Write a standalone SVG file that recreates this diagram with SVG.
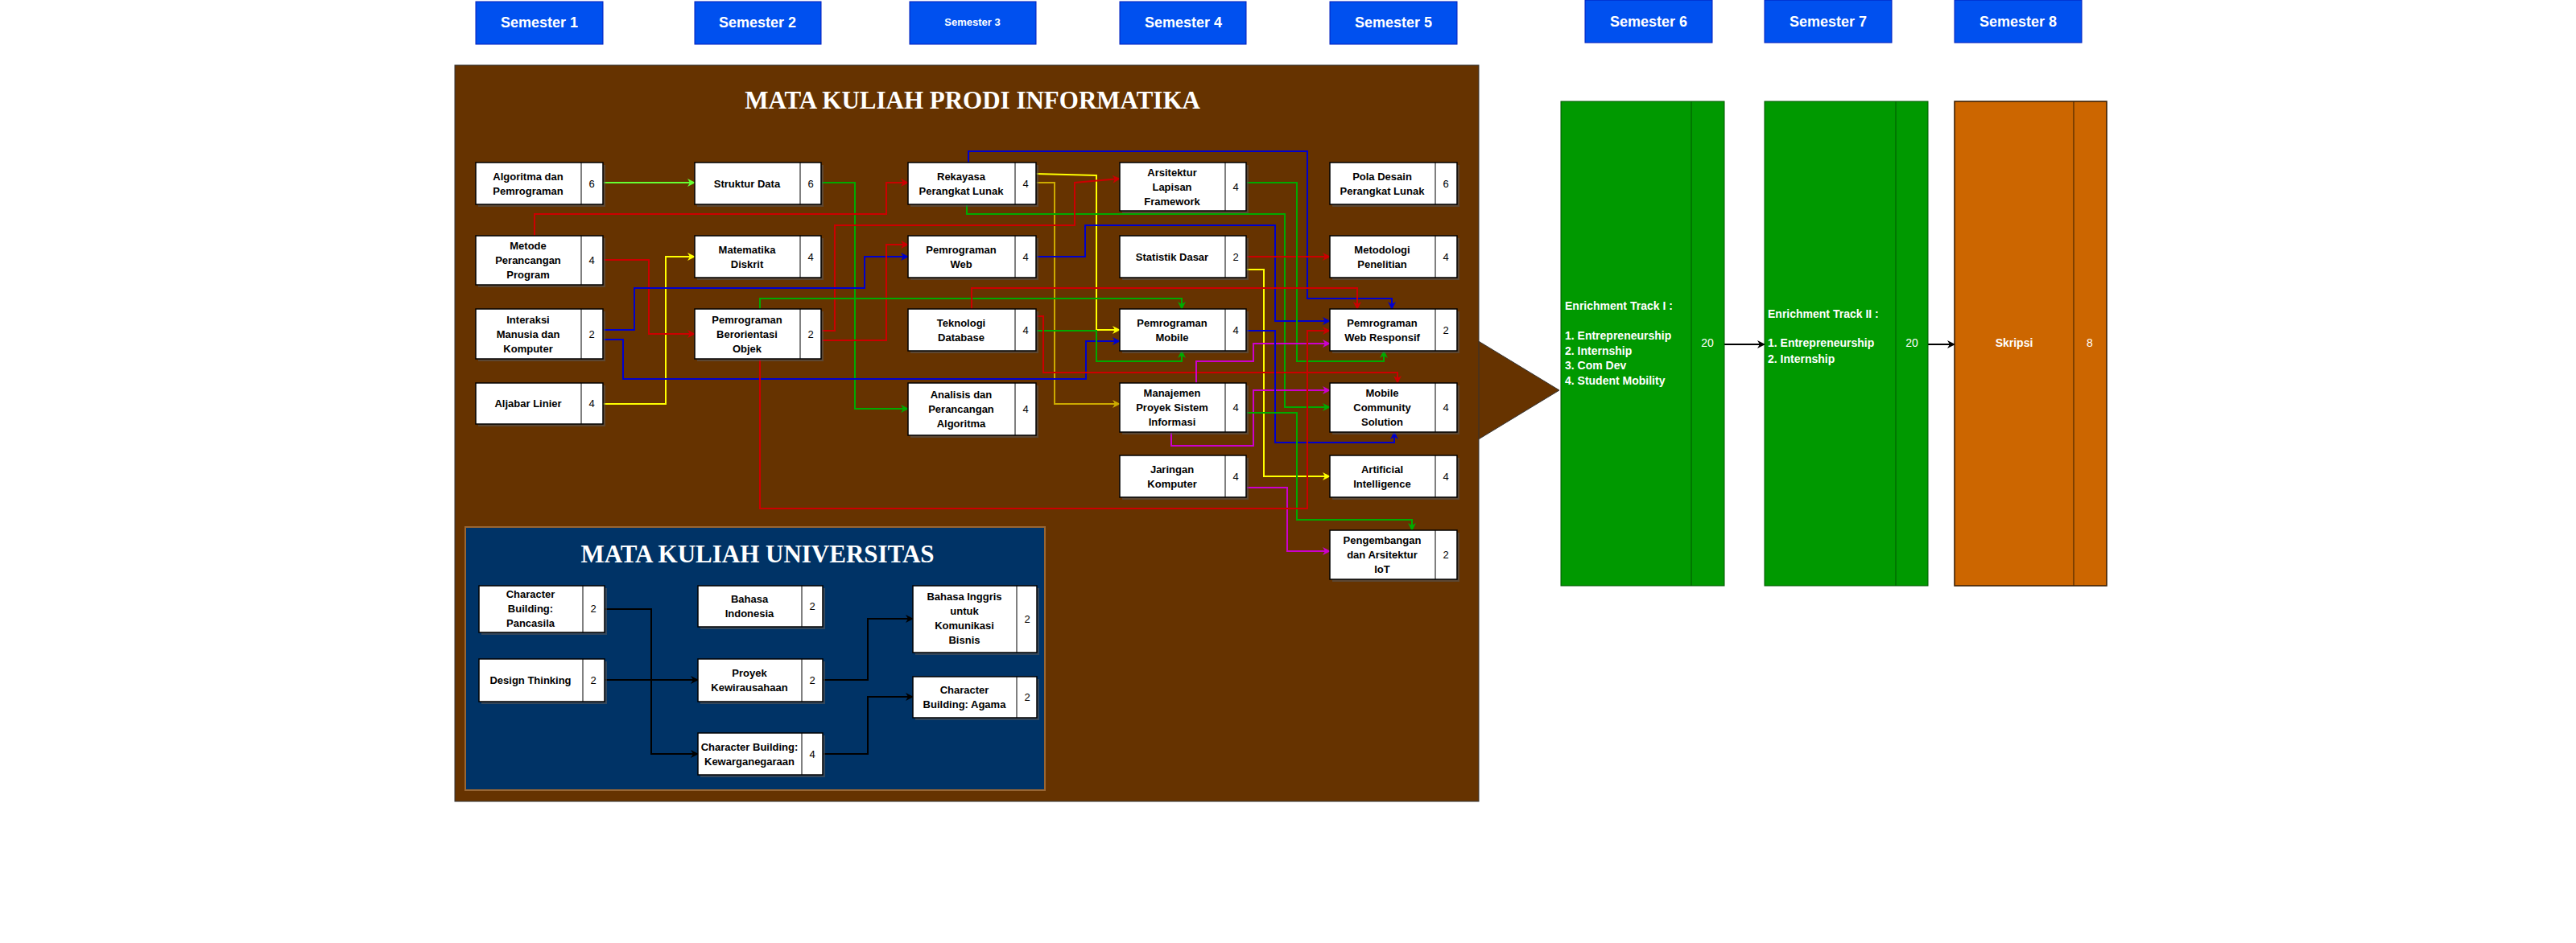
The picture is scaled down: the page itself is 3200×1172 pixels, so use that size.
<svg xmlns="http://www.w3.org/2000/svg" width="3200" height="1172" viewBox="0 0 3200 1172">
<style>
.sem{fill:#0050EF;stroke:#001DBC;stroke-width:1}
.st{font-family:"Liberation Sans",Arial,sans-serif;font-weight:bold;fill:#fff;text-anchor:middle}
.nb{fill:#fff;stroke:#000;stroke-width:1.5}
.sh{fill:#555;opacity:.6}
.nt{font-family:"Liberation Sans",Arial,sans-serif;font-weight:bold;font-size:13px;fill:#000;text-anchor:middle}
.nn{font-family:"Liberation Sans",Arial,sans-serif;font-size:13px;fill:#000;text-anchor:middle}
.ttl{font-family:"Liberation Serif","Times New Roman",serif;font-weight:bold;font-size:31px;fill:#fff;text-anchor:middle}
.c{fill:none;stroke-width:2}
.r{stroke:#CC0000;marker-end:url(#mr)}
.g{stroke:#00AA00;marker-end:url(#mg)}
.y{stroke:#FFFF00;marker-end:url(#my)}
.o{stroke:#CCAA00;marker-end:url(#mo)}
.b{stroke:#0000CC;marker-end:url(#mb)}
.m{stroke:#CC00CC;marker-end:url(#mm)}
.k{stroke:#000;marker-end:url(#mk)}
.et{font-family:"Liberation Sans",Arial,sans-serif;font-weight:bold;font-size:14px;fill:#fff}
</style>
<defs>
<marker id="mr" markerWidth="10" markerHeight="10" refX="9" refY="5" orient="auto" markerUnits="userSpaceOnUse"><path d="M0,0L10,5L0,10L3,5Z" fill="#CC0000"/></marker>
<marker id="mg" markerWidth="10" markerHeight="10" refX="9" refY="5" orient="auto" markerUnits="userSpaceOnUse"><path d="M0,0L10,5L0,10L3,5Z" fill="#00AA00"/></marker>
<marker id="mgl" markerWidth="10" markerHeight="10" refX="9" refY="5" orient="auto" markerUnits="userSpaceOnUse"><path d="M0,0L10,5L0,10L3,5Z" fill="#66FF33"/></marker>
<marker id="my" markerWidth="10" markerHeight="10" refX="9" refY="5" orient="auto" markerUnits="userSpaceOnUse"><path d="M0,0L10,5L0,10L3,5Z" fill="#FFFF00"/></marker>
<marker id="mo" markerWidth="10" markerHeight="10" refX="9" refY="5" orient="auto" markerUnits="userSpaceOnUse"><path d="M0,0L10,5L0,10L3,5Z" fill="#CCAA00"/></marker>
<marker id="mb" markerWidth="10" markerHeight="10" refX="9" refY="5" orient="auto" markerUnits="userSpaceOnUse"><path d="M0,0L10,5L0,10L3,5Z" fill="#0000CC"/></marker>
<marker id="mm" markerWidth="10" markerHeight="10" refX="9" refY="5" orient="auto" markerUnits="userSpaceOnUse"><path d="M0,0L10,5L0,10L3,5Z" fill="#CC00CC"/></marker>
<marker id="mk" markerWidth="10" markerHeight="10" refX="9" refY="5" orient="auto" markerUnits="userSpaceOnUse"><path d="M0,0L10,5L0,10L3,5Z" fill="#000"/></marker>
</defs>
<rect width="3200" height="1172" fill="#fff"/>
<g id="semesters">
<rect class="sem" x="591" y="2" width="158" height="53"/><text class="st" x="670" y="34" font-size="18">Semester 1</text>
<rect class="sem" x="863" y="2" width="157" height="53"/><text class="st" x="941" y="34" font-size="18">Semester 2</text>
<rect class="sem" x="1130" y="2" width="157" height="53"/><text class="st" x="1208" y="32" font-size="13">Semester 3</text>
<rect class="sem" x="1391" y="2" width="157" height="53"/><text class="st" x="1470" y="34" font-size="18">Semester 4</text>
<rect class="sem" x="1652" y="2" width="158" height="53"/><text class="st" x="1731" y="34" font-size="18">Semester 5</text>
<rect class="sem" x="1969" y="0" width="158" height="53"/><text class="st" x="2048" y="33" font-size="18" font-weight="normal">Semester 6</text>
<rect class="sem" x="2192" y="0" width="158" height="53"/><text class="st" x="2271" y="33" font-size="18">Semester 7</text>
<rect class="sem" x="2428" y="0" width="158" height="53"/><text class="st" x="2507" y="33" font-size="18">Semester 8</text>
</g>
<g id="prodi-panel">
<polygon points="1830,420 1937,485 1830,550" fill="#663300" stroke="#333" stroke-width="1"/>
<rect x="565" y="81" width="1272" height="915" fill="#663300" stroke="#333" stroke-width="1"/>
<text class="ttl" x="1208" y="135">MATA KULIAH PRODI INFORMATIKA</text>
</g>
<g id="univ-panel">
<rect x="578" y="655" width="720" height="327" fill="#003366" stroke="#996633" stroke-width="2"/>
<text class="ttl" x="941" y="699">MATA KULIAH UNIVERSITAS</text>
</g>
<g id="connectors">
<polyline class="c" stroke="#66FF33" marker-end="url(#mgl)" points="749,227 863,227"/>
<polyline class="c g" points="1020,227 1062,227 1062,508 1128,508"/>
<polyline class="c b" points="1203,202 1203,188 1624,188 1624,371 1729,371 1729,384"/>
<polyline class="c r" points="664,293 664,266 1101,266 1101,227 1128,227"/>
<polyline class="c y" points="1287,216 1362,218 1362,410 1391,410"/>
<polyline class="c o" points="1287,227 1310,227 1310,502 1391,502"/>
<polyline class="c g" points="1201,254 1201,266 1596,266 1596,506 1652,506"/>
<polyline class="c r" points="1020,411 1037,411 1037,280 1335,280 1335,227 1391,222"/>
<polyline class="c b" points="1287,319 1348,319 1348,280 1584,280 1584,399 1652,399"/>
<polyline class="c r" points="1548,319 1652,319"/>
<polyline class="c y" points="1548,335 1570,335 1570,592 1652,592"/>
<polyline class="c g" points="1548,227 1611,227 1611,449 1719,449 1719,436"/>
<polyline class="c y" points="749,502 827,502 827,319 863,319"/>
<polyline class="c r" points="749,323 806,323 806,415 863,415"/>
<polyline class="c b" points="749,410 788,410 788,358 1074,358 1074,319 1128,319"/>
<polyline class="c r" points="1020,429 1020,423 1101,423 1101,304 1128,304"/>
<polyline class="c b" points="749,422 774,422 774,471 1349,471 1349,424 1391,424"/>
<polyline class="c g" points="944,384 944,371 1468,371 1468,384"/>
<polyline class="c r" points="1207,384 1207,358 1686,358 1686,384"/>
<polyline class="c g" points="1287,411 1362,411 1362,449 1468,449 1468,436"/>
<polyline class="c r" points="1287,393 1296,393 1296,463 1736,463 1736,476"/>
<polyline class="c m" points="1486,476 1486,449 1557,449 1557,427 1652,427"/>
<polyline class="c m" points="1455,537 1455,554 1557,554 1557,485 1652,485"/>
<polyline class="c b" points="1548,411 1584,411 1584,550 1732,550 1732,537"/>
<polyline class="c g" points="1548,513 1611,513 1611,646 1754,646 1754,659"/>
<polyline class="c m" points="1548,606 1599,606 1599,685 1652,685"/>
<polyline class="c r" points="944,446 944,632 1624,632 1624,411 1652,411"/>
<polyline class="c k" points="751,757 809,757 809,937 867,937"/>
<polyline class="c k" points="751,845 867,845"/>
<polyline class="c k" points="1022,845 1078,845 1078,769 1134,769"/>
<polyline class="c k" points="1022,937 1078,937 1078,866 1134,866"/>
<polyline class="c k" stroke-width="1.5" points="2142,428 2192,428"/>
<polyline class="c k" stroke-width="1.5" points="2395,428 2428,428"/>
</g>
<g id="n-algoritma"><rect class="sh" x="594" y="205" width="158" height="52"/><rect class="nb" x="591" y="202" width="158" height="52"/><line x1="722" y1="202" x2="722" y2="254" stroke="#000"/><text class="nt" x="656" y="224">Algoritma dan</text><text class="nt" x="656" y="242">Pemrograman</text><text class="nn" x="735" y="233">6</text></g>
<g id="n-metode"><rect class="sh" x="594" y="296" width="158" height="61"/><rect class="nb" x="591" y="293" width="158" height="61"/><line x1="722" y1="293" x2="722" y2="354" stroke="#000"/><text class="nt" x="656" y="310">Metode</text><text class="nt" x="656" y="328">Perancangan</text><text class="nt" x="656" y="346">Program</text><text class="nn" x="735" y="328">4</text></g>
<g id="n-interaksi"><rect class="sh" x="594" y="387" width="158" height="62"/><rect class="nb" x="591" y="384" width="158" height="62"/><line x1="722" y1="384" x2="722" y2="446" stroke="#000"/><text class="nt" x="656" y="402">Interaksi</text><text class="nt" x="656" y="420">Manusia dan</text><text class="nt" x="656" y="438">Komputer</text><text class="nn" x="735" y="420">2</text></g>
<g id="n-aljabar"><rect class="sh" x="594" y="479" width="158" height="51"/><rect class="nb" x="591" y="476" width="158" height="51"/><line x1="722" y1="476" x2="722" y2="527" stroke="#000"/><text class="nt" x="656" y="506">Aljabar Linier</text><text class="nn" x="735" y="506">4</text></g>
<g id="n-struktur"><rect class="sh" x="866" y="205" width="157" height="52"/><rect class="nb" x="863" y="202" width="157" height="52"/><line x1="994" y1="202" x2="994" y2="254" stroke="#000"/><text class="nt" x="928" y="233">Struktur Data</text><text class="nn" x="1007" y="233">6</text></g>
<g id="n-matdis"><rect class="sh" x="866" y="296" width="157" height="52"/><rect class="nb" x="863" y="293" width="157" height="52"/><line x1="994" y1="293" x2="994" y2="345" stroke="#000"/><text class="nt" x="928" y="315">Matematika</text><text class="nt" x="928" y="333">Diskrit</text><text class="nn" x="1007" y="324">4</text></g>
<g id="n-pbo"><rect class="sh" x="866" y="387" width="157" height="62"/><rect class="nb" x="863" y="384" width="157" height="62"/><line x1="994" y1="384" x2="994" y2="446" stroke="#000"/><text class="nt" x="928" y="402">Pemrograman</text><text class="nt" x="928" y="420">Berorientasi</text><text class="nt" x="928" y="438">Objek</text><text class="nn" x="1007" y="420">2</text></g>
<g id="n-rpl"><rect class="sh" x="1131" y="205" width="159" height="52"/><rect class="nb" x="1128" y="202" width="159" height="52"/><line x1="1261" y1="202" x2="1261" y2="254" stroke="#000"/><text class="nt" x="1194" y="224">Rekayasa</text><text class="nt" x="1194" y="242">Perangkat Lunak</text><text class="nn" x="1274" y="233">4</text></g>
<g id="n-pweb"><rect class="sh" x="1131" y="296" width="159" height="52"/><rect class="nb" x="1128" y="293" width="159" height="52"/><line x1="1261" y1="293" x2="1261" y2="345" stroke="#000"/><text class="nt" x="1194" y="315">Pemrograman</text><text class="nt" x="1194" y="333">Web</text><text class="nn" x="1274" y="324">4</text></g>
<g id="n-tekdb"><rect class="sh" x="1131" y="387" width="159" height="52"/><rect class="nb" x="1128" y="384" width="159" height="52"/><line x1="1261" y1="384" x2="1261" y2="436" stroke="#000"/><text class="nt" x="1194" y="406">Teknologi</text><text class="nt" x="1194" y="424">Database</text><text class="nn" x="1274" y="415">4</text></g>
<g id="n-analisis"><rect class="sh" x="1131" y="479" width="159" height="65"/><rect class="nb" x="1128" y="476" width="159" height="65"/><line x1="1261" y1="476" x2="1261" y2="541" stroke="#000"/><text class="nt" x="1194" y="495">Analisis dan</text><text class="nt" x="1194" y="513">Perancangan</text><text class="nt" x="1194" y="531">Algoritma</text><text class="nn" x="1274" y="513">4</text></g>
<g id="n-arsitektur"><rect class="sh" x="1394" y="205" width="157" height="60"/><rect class="nb" x="1391" y="202" width="157" height="60"/><line x1="1522" y1="202" x2="1522" y2="262" stroke="#000"/><text class="nt" x="1456" y="219">Arsitektur</text><text class="nt" x="1456" y="237">Lapisan</text><text class="nt" x="1456" y="255">Framework</text><text class="nn" x="1535" y="237">4</text></g>
<g id="n-statistik"><rect class="sh" x="1394" y="296" width="157" height="52"/><rect class="nb" x="1391" y="293" width="157" height="52"/><line x1="1522" y1="293" x2="1522" y2="345" stroke="#000"/><text class="nt" x="1456" y="324">Statistik Dasar</text><text class="nn" x="1535" y="324">2</text></g>
<g id="n-pmobile"><rect class="sh" x="1394" y="387" width="157" height="52"/><rect class="nb" x="1391" y="384" width="157" height="52"/><line x1="1522" y1="384" x2="1522" y2="436" stroke="#000"/><text class="nt" x="1456" y="406">Pemrograman</text><text class="nt" x="1456" y="424">Mobile</text><text class="nn" x="1535" y="415">4</text></g>
<g id="n-mpsi"><rect class="sh" x="1394" y="479" width="157" height="61"/><rect class="nb" x="1391" y="476" width="157" height="61"/><line x1="1522" y1="476" x2="1522" y2="537" stroke="#000"/><text class="nt" x="1456" y="493">Manajemen</text><text class="nt" x="1456" y="511">Proyek Sistem</text><text class="nt" x="1456" y="529">Informasi</text><text class="nn" x="1535" y="511">4</text></g>
<g id="n-jarkom"><rect class="sh" x="1394" y="569" width="157" height="52"/><rect class="nb" x="1391" y="566" width="157" height="52"/><line x1="1522" y1="566" x2="1522" y2="618" stroke="#000"/><text class="nt" x="1456" y="588">Jaringan</text><text class="nt" x="1456" y="606">Komputer</text><text class="nn" x="1535" y="597">4</text></g>
<g id="n-poladesain"><rect class="sh" x="1655" y="205" width="158" height="52"/><rect class="nb" x="1652" y="202" width="158" height="52"/><line x1="1783" y1="202" x2="1783" y2="254" stroke="#000"/><text class="nt" x="1717" y="224">Pola Desain</text><text class="nt" x="1717" y="242">Perangkat Lunak</text><text class="nn" x="1796" y="233">6</text></g>
<g id="n-metpen"><rect class="sh" x="1655" y="296" width="158" height="52"/><rect class="nb" x="1652" y="293" width="158" height="52"/><line x1="1783" y1="293" x2="1783" y2="345" stroke="#000"/><text class="nt" x="1717" y="315">Metodologi</text><text class="nt" x="1717" y="333">Penelitian</text><text class="nn" x="1796" y="324">4</text></g>
<g id="n-webresp"><rect class="sh" x="1655" y="387" width="158" height="52"/><rect class="nb" x="1652" y="384" width="158" height="52"/><line x1="1783" y1="384" x2="1783" y2="436" stroke="#000"/><text class="nt" x="1717" y="406">Pemrograman</text><text class="nt" x="1717" y="424">Web Responsif</text><text class="nn" x="1796" y="415">2</text></g>
<g id="n-mcs"><rect class="sh" x="1655" y="479" width="158" height="61"/><rect class="nb" x="1652" y="476" width="158" height="61"/><line x1="1783" y1="476" x2="1783" y2="537" stroke="#000"/><text class="nt" x="1717" y="493">Mobile</text><text class="nt" x="1717" y="511">Community</text><text class="nt" x="1717" y="529">Solution</text><text class="nn" x="1796" y="511">4</text></g>
<g id="n-ai"><rect class="sh" x="1655" y="569" width="158" height="52"/><rect class="nb" x="1652" y="566" width="158" height="52"/><line x1="1783" y1="566" x2="1783" y2="618" stroke="#000"/><text class="nt" x="1717" y="588">Artificial</text><text class="nt" x="1717" y="606">Intelligence</text><text class="nn" x="1796" y="597">4</text></g>
<g id="n-iot"><rect class="sh" x="1655" y="662" width="158" height="61"/><rect class="nb" x="1652" y="659" width="158" height="61"/><line x1="1783" y1="659" x2="1783" y2="720" stroke="#000"/><text class="nt" x="1717" y="676">Pengembangan</text><text class="nt" x="1717" y="694">dan Arsitektur</text><text class="nt" x="1717" y="712">IoT</text><text class="nn" x="1796" y="694">2</text></g>
<g id="n-pancasila"><rect class="sh" x="598" y="731" width="156" height="58"/><rect class="nb" x="595" y="728" width="156" height="58"/><line x1="724" y1="728" x2="724" y2="786" stroke="#000"/><text class="nt" x="659" y="743">Character</text><text class="nt" x="659" y="761">Building:</text><text class="nt" x="659" y="779">Pancasila</text><text class="nn" x="737" y="761">2</text></g>
<g id="n-bindo"><rect class="sh" x="870" y="731" width="155" height="51"/><rect class="nb" x="867" y="728" width="155" height="51"/><line x1="996" y1="728" x2="996" y2="779" stroke="#000"/><text class="nt" x="931" y="749">Bahasa</text><text class="nt" x="931" y="767">Indonesia</text><text class="nn" x="1009" y="758">2</text></g>
<g id="n-binggris"><rect class="sh" x="1137" y="731" width="154" height="83"/><rect class="nb" x="1134" y="728" width="154" height="83"/><line x1="1263" y1="728" x2="1263" y2="811" stroke="#000"/><text class="nt" x="1198" y="746">Bahasa Inggris</text><text class="nt" x="1198" y="764">untuk</text><text class="nt" x="1198" y="782">Komunikasi</text><text class="nt" x="1198" y="800">Bisnis</text><text class="nn" x="1276" y="774">2</text></g>
<g id="n-design"><rect class="sh" x="598" y="822" width="156" height="53"/><rect class="nb" x="595" y="819" width="156" height="53"/><line x1="724" y1="819" x2="724" y2="872" stroke="#000"/><text class="nt" x="659" y="850">Design Thinking</text><text class="nn" x="737" y="850">2</text></g>
<g id="n-proyek"><rect class="sh" x="870" y="822" width="155" height="53"/><rect class="nb" x="867" y="819" width="155" height="53"/><line x1="996" y1="819" x2="996" y2="872" stroke="#000"/><text class="nt" x="931" y="841">Proyek</text><text class="nt" x="931" y="859">Kewirausahaan</text><text class="nn" x="1009" y="850">2</text></g>
<g id="n-agama"><rect class="sh" x="1137" y="844" width="154" height="51"/><rect class="nb" x="1134" y="841" width="154" height="51"/><line x1="1263" y1="841" x2="1263" y2="892" stroke="#000"/><text class="nt" x="1198" y="862">Character</text><text class="nt" x="1198" y="880">Building: Agama</text><text class="nn" x="1276" y="871">2</text></g>
<g id="n-kewarga"><rect class="sh" x="870" y="914" width="155" height="52"/><rect class="nb" x="867" y="911" width="155" height="52"/><line x1="996" y1="911" x2="996" y2="963" stroke="#000"/><text class="nt" x="931" y="933" font-size="11">Character Building:</text><text class="nt" x="931" y="951" font-size="11">Kewarganegaraan</text><text class="nn" x="1009" y="942">4</text></g>
<g id="n-track1"><rect x="1939" y="126" width="203" height="602" fill="#009900" stroke="#005700"/><line x1="2101" y1="126" x2="2101" y2="728" stroke="#005700"/><text class="et" x="1944" y="385">Enrichment Track I :</text><text class="et" x="1944" y="422">1. Entrepreneurship</text><text class="et" x="1944" y="441">2. Internship</text><text class="et" x="1944" y="459">3. Com Dev</text><text class="et" x="1944" y="478">4. Student Mobility</text><text x="2121" y="431" font-family="Liberation Sans,Arial,sans-serif" font-size="14" fill="#fff" text-anchor="middle">20</text></g>
<g id="n-track2"><rect x="2192" y="126" width="203" height="602" fill="#009900" stroke="#005700"/><line x1="2355" y1="126" x2="2355" y2="728" stroke="#005700"/><text class="et" x="2196" y="395">Enrichment Track II :</text><text class="et" x="2196" y="431">1. Entrepreneurship</text><text class="et" x="2196" y="451">2. Internship</text><text x="2375" y="431" font-family="Liberation Sans,Arial,sans-serif" font-size="14" fill="#fff" text-anchor="middle">20</text></g>
<g id="n-skripsi"><rect x="2428" y="126" width="189" height="602" fill="#CC6600" stroke="#331a00" stroke-width="1.5"/><line x1="2576" y1="126" x2="2576" y2="728" stroke="#331a00"/><text class="et" x="2502" y="431" text-anchor="middle">Skripsi</text><text x="2596" y="431" font-family="Liberation Sans,Arial,sans-serif" font-size="14" fill="#fff" text-anchor="middle">8</text></g>
</svg>
